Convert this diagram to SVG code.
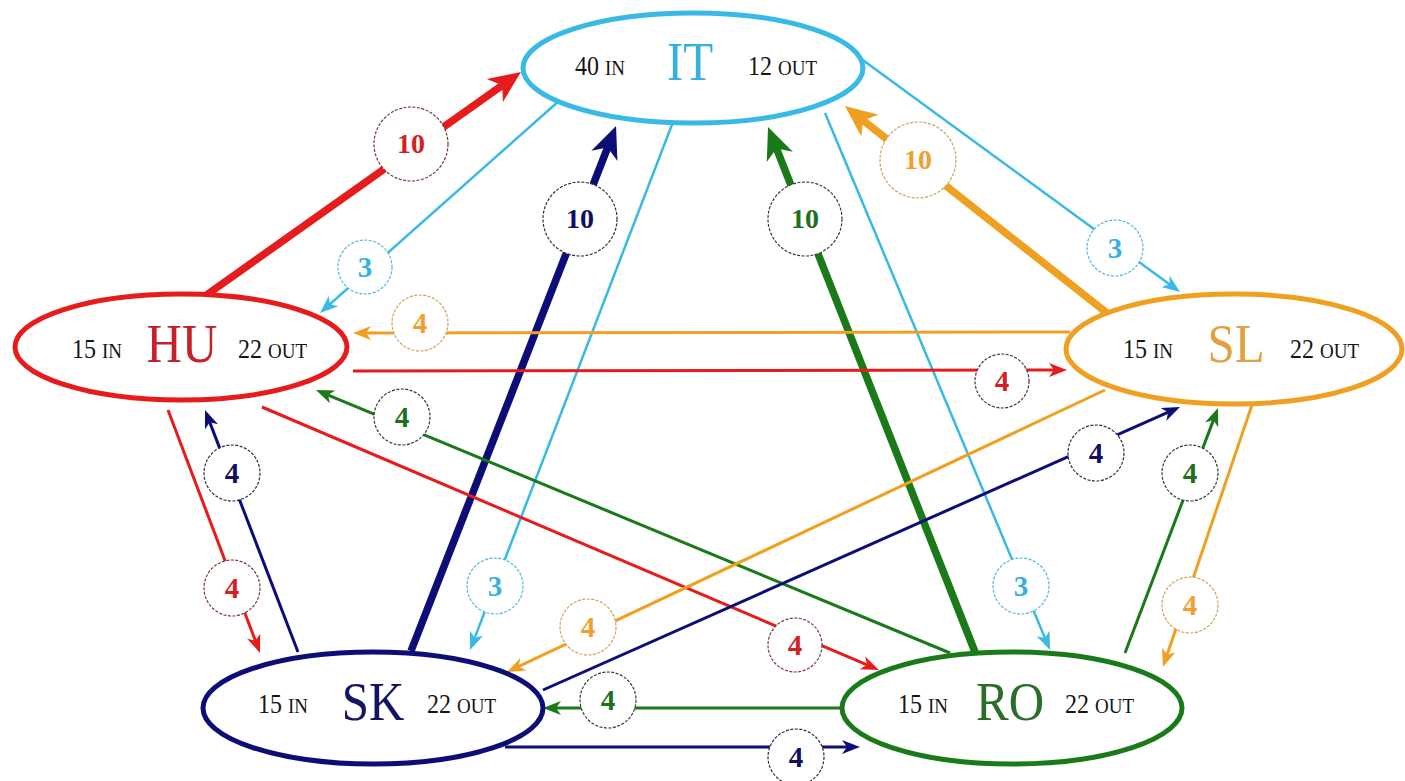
<svg xmlns="http://www.w3.org/2000/svg" width="1405" height="781" viewBox="0 0 1405 781">
<style>
.bg{fill:#ffffff}
.node{fill:#ffffff;stroke-width:5}
.small{font-family:"Liberation Serif","Times New Roman",serif;font-size:24px;fill:#151515}
.sc{font-size:19px}
.name{font-family:"Liberation Serif","Times New Roman",serif;font-size:49px;text-anchor:middle}
.ln{fill:none;stroke-linecap:butt}
.thin{stroke-width:3}
.cy{stroke-width:2.5}
.thick{stroke-width:7.5}
.lab{fill:#ffffff;stroke-width:1.2;stroke-dasharray:3 1.5}
.lt{font-family:"Liberation Serif","Times New Roman",serif;font-weight:bold;text-anchor:middle}
.l1{font-size:28px}
.l2{font-size:29px}
</style>
<defs>
<marker id="aRed" markerUnits="userSpaceOnUse" refX="12" refY="0" markerWidth="20" markerHeight="16" orient="auto" overflow="visible"><path d="M0,-7 L18,0 L0,7 L5,0 z" fill="#e61c1c"/></marker>
<marker id="aCy" markerUnits="userSpaceOnUse" refX="12" refY="0" markerWidth="20" markerHeight="16" orient="auto" overflow="visible"><path d="M0,-7 L18,0 L0,7 L5,0 z" fill="#38b9e6"/></marker>
<marker id="aOr" markerUnits="userSpaceOnUse" refX="12" refY="0" markerWidth="20" markerHeight="16" orient="auto" overflow="visible"><path d="M0,-7 L18,0 L0,7 L5,0 z" fill="#f0a020"/></marker>
<marker id="aNv" markerUnits="userSpaceOnUse" refX="12" refY="0" markerWidth="20" markerHeight="16" orient="auto" overflow="visible"><path d="M0,-7 L18,0 L0,7 L5,0 z" fill="#0d0d78"/></marker>
<marker id="aGr" markerUnits="userSpaceOnUse" refX="12" refY="0" markerWidth="20" markerHeight="16" orient="auto" overflow="visible"><path d="M0,-7 L18,0 L0,7 L5,0 z" fill="#1a7a1a"/></marker>
<marker id="tRed" markerUnits="userSpaceOnUse" refX="22" refY="0" markerWidth="34" markerHeight="30" orient="auto" overflow="visible"><path d="M0,-14 L32,0 L0,14 L9,0 z" fill="#e61c1c"/></marker>
<marker id="tOr" markerUnits="userSpaceOnUse" refX="22" refY="0" markerWidth="34" markerHeight="30" orient="auto" overflow="visible"><path d="M0,-14 L32,0 L0,14 L9,0 z" fill="#f0a020"/></marker>
<marker id="tNv" markerUnits="userSpaceOnUse" refX="22" refY="0" markerWidth="34" markerHeight="30" orient="auto" overflow="visible"><path d="M0,-14 L32,0 L0,14 L9,0 z" fill="#0d0d78"/></marker>
<marker id="tGr" markerUnits="userSpaceOnUse" refX="22" refY="0" markerWidth="34" markerHeight="30" orient="auto" overflow="visible"><path d="M0,-14 L32,0 L0,14 L9,0 z" fill="#1a7a1a"/></marker>
</defs>
<rect class="bg" x="0" y="0" width="1405" height="781"/>

<g id="connectors">
  <!-- lines -->
  <line class="ln thick" stroke="#e61c1c" x1="205" y1="296" x2="512.8" y2="77.8" marker-end="url(#tRed)"/>
  <line class="ln cy" stroke="#38b9e6" x1="560" y1="100" x2="324.5" y2="309" marker-end="url(#aCy)"/>
  <line class="ln thick" stroke="#0d0d78" x1="411" y1="651" x2="612.4" y2="135.3" marker-end="url(#tNv)"/>
  <line class="ln cy" stroke="#38b9e6" x1="673" y1="122" x2="472.2" y2="644.4" marker-end="url(#aCy)"/>
  <line class="ln thick" stroke="#1a7a1a" x1="975" y1="652" x2="771.7" y2="136.3" marker-end="url(#tGr)"/>
  <line class="ln cy" stroke="#38b9e6" x1="825" y1="113" x2="1047.7" y2="644.5" marker-end="url(#aCy)"/>
  <line class="ln thick" stroke="#f0a020" x1="1107" y1="313" x2="852.8" y2="112.2" marker-end="url(#tOr)"/>
  <line class="ln cy" stroke="#38b9e6" x1="860" y1="58" x2="1175.2" y2="288.4" marker-end="url(#aCy)"/>
  <line class="ln thin" stroke="#f0a020" x1="1070" y1="332" x2="359" y2="333" marker-end="url(#aOr)"/>
  <line class="ln thin" stroke="#e61c1c" x1="353" y1="371" x2="1061" y2="370" marker-end="url(#aRed)"/>
  <line class="ln thin" stroke="#1a7a1a" x1="950" y1="653" x2="321.5" y2="392.3" marker-end="url(#aGr)"/>
  <line class="ln thin" stroke="#e61c1c" x1="262" y1="407" x2="873.5" y2="667.6" marker-end="url(#aRed)"/>
  <line class="ln thin" stroke="#e61c1c" x1="168" y1="410" x2="257.9" y2="647.4" marker-end="url(#aRed)"/>
  <line class="ln thin" stroke="#0d0d78" x1="298" y1="652" x2="207.2" y2="415.6" marker-end="url(#aNv)"/>
  <line class="ln thin" stroke="#f0a020" x1="1105" y1="390" x2="512.4" y2="669.4" marker-end="url(#aOr)"/>
  <line class="ln thin" stroke="#0d0d78" x1="543" y1="690" x2="1174.5" y2="409.4" marker-end="url(#aNv)"/>
  <line class="ln thin" stroke="#1a7a1a" x1="1125" y1="653" x2="1215.9" y2="413.6" marker-end="url(#aGr)"/>
  <line class="ln thin" stroke="#f0a020" x1="1253" y1="402" x2="1164.9" y2="661.3" marker-end="url(#aOr)"/>
  <line class="ln thin" stroke="#1a7a1a" x1="842" y1="708" x2="549" y2="708" marker-end="url(#aGr)"/>
  <line class="ln thin" stroke="#0d0d78" x1="505" y1="747" x2="854" y2="747" marker-end="url(#aNv)"/>

  <!-- labels -->
  <circle class="lab" cx="411" cy="144" r="37" stroke="#7a3a30"/>
  <text class="lt l1" x="411" y="153" fill="#d42020">10</text>
  <circle class="lab" cx="365" cy="267" r="27" stroke="#50b8e0"/>
  <text class="lt l2" x="365" y="277" fill="#38b0e0">3</text>
  <circle class="lab" cx="580" cy="219" r="37" stroke="#303040"/>
  <text class="lt l1" x="580" y="228" fill="#101060">10</text>
  <circle class="lab" cx="495" cy="586" r="28" stroke="#50b8e0"/>
  <text class="lt l2" x="495" y="596" fill="#38b0e0">3</text>
  <circle class="lab" cx="805" cy="219" r="37" stroke="#304030"/>
  <text class="lt l1" x="805" y="228" fill="#207020">10</text>
  <circle class="lab" cx="1021" cy="586" r="28" stroke="#50b8e0"/>
  <text class="lt l2" x="1021" y="596" fill="#38b0e0">3</text>
  <circle class="lab" cx="918" cy="160" r="38" stroke="#d0a060"/>
  <text class="lt l1" x="918" y="169" fill="#f0a030">10</text>
  <circle class="lab" cx="1115" cy="248" r="28" stroke="#50b8e0"/>
  <text class="lt l2" x="1115" y="258" fill="#38b0e0">3</text>
  <circle class="lab" cx="420" cy="323" r="28" stroke="#d0a060"/>
  <text class="lt l2" x="420" y="333" fill="#f0a030">4</text>
  <circle class="lab" cx="1002" cy="381" r="27" stroke="#503030"/>
  <text class="lt l2" x="1002" y="391" fill="#d42020">4</text>
  <circle class="lab" cx="402" cy="417" r="28" stroke="#304030"/>
  <text class="lt l2" x="402" y="427" fill="#207020">4</text>
  <circle class="lab" cx="795" cy="645" r="27" stroke="#7a3a30"/>
  <text class="lt l2" x="795" y="655" fill="#d42020">4</text>
  <circle class="lab" cx="232" cy="588" r="28" stroke="#7a3a30"/>
  <text class="lt l2" x="232" y="598" fill="#d42020">4</text>
  <circle class="lab" cx="232" cy="473" r="28" stroke="#303040"/>
  <text class="lt l2" x="232" y="483" fill="#101060">4</text>
  <circle class="lab" cx="588" cy="627" r="28" stroke="#d0a060"/>
  <text class="lt l2" x="588" y="637" fill="#f0a030">4</text>
  <circle class="lab" cx="1096" cy="453" r="28" stroke="#303040"/>
  <text class="lt l2" x="1096" y="463" fill="#101060">4</text>
  <circle class="lab" cx="1190" cy="473" r="28" stroke="#304030"/>
  <text class="lt l2" x="1190" y="483" fill="#207020">4</text>
  <circle class="lab" cx="1190" cy="605" r="28" stroke="#d0a060"/>
  <text class="lt l2" x="1190" y="615" fill="#f0a030">4</text>
  <circle class="lab" cx="608" cy="700" r="28" stroke="#304030"/>
  <text class="lt l2" x="608" y="710" fill="#207020">4</text>
  <circle class="lab" cx="796" cy="757" r="28" stroke="#303040"/>
  <text class="lt l2" x="796" y="767" fill="#101060">4</text>
</g>

<g id="node-IT">
  <ellipse class="node" cx="693" cy="68" rx="170" ry="55" stroke="#38b9e6"/>
  <text class="small" transform="translate(575 75) scale(1 1.1)">40 <tspan class="sc">IN</tspan></text>
  <text class="name" transform="translate(690 80) scale(1 1.1)" fill="#38b0dc">IT</text>
  <text class="small" transform="translate(748 75) scale(1 1.1)">12 <tspan class="sc">OUT</tspan></text>
</g>
<g id="node-HU">
  <ellipse class="node" cx="181" cy="347" rx="166" ry="53" stroke="#e61c1c"/>
  <text class="small" transform="translate(72 358) scale(1 1.1)">15 <tspan class="sc">IN</tspan></text>
  <text class="name" transform="translate(182 362) scale(1 1.12)" fill="#c8202a">HU</text>
  <text class="small" transform="translate(238 358) scale(1 1.1)">22 <tspan class="sc">OUT</tspan></text>
</g>
<g id="node-SL">
  <ellipse class="node" cx="1234" cy="349" rx="168" ry="55" stroke="#f0a020"/>
  <text class="small" transform="translate(1123 358) scale(1 1.1)">15 <tspan class="sc">IN</tspan></text>
  <text class="name" transform="translate(1236 362) scale(1 1.12)" fill="#e2a040">SL</text>
  <text class="small" transform="translate(1290 358) scale(1 1.1)">22 <tspan class="sc">OUT</tspan></text>
</g>
<g id="node-SK">
  <ellipse class="node" cx="373" cy="708" rx="170" ry="56" stroke="#0d0d78"/>
  <text class="small" transform="translate(258 713) scale(1 1.1)">15 <tspan class="sc">IN</tspan></text>
  <text class="name" transform="translate(373 720) scale(1 1.12)" fill="#141464">SK</text>
  <text class="small" transform="translate(427 713) scale(1 1.1)">22 <tspan class="sc">OUT</tspan></text>
</g>
<g id="node-RO">
  <ellipse class="node" cx="1012" cy="708" rx="170" ry="56" stroke="#1a7a1a"/>
  <text class="small" transform="translate(898 713) scale(1 1.1)">15 <tspan class="sc">IN</tspan></text>
  <text class="name" transform="translate(1010 720) scale(1 1.12)" fill="#2a6e2a">RO</text>
  <text class="small" transform="translate(1065 713) scale(1 1.1)">22 <tspan class="sc">OUT</tspan></text>
</g>
</svg>
